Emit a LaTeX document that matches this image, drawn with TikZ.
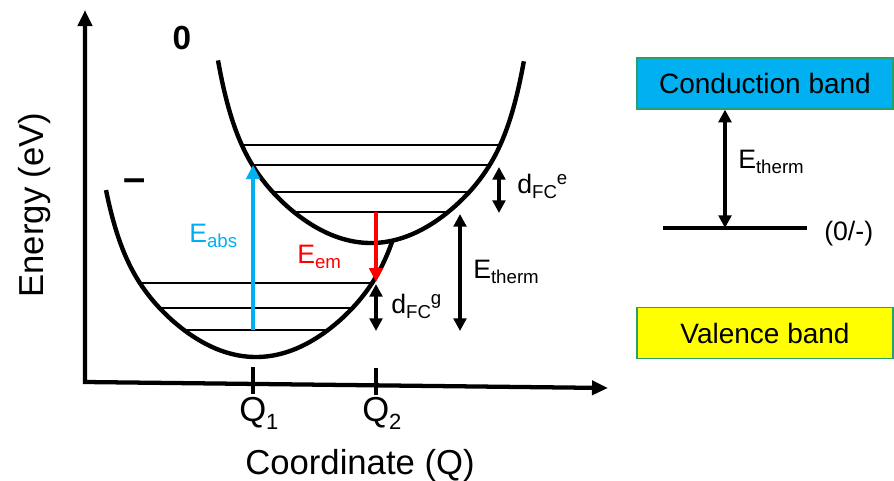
\documentclass[tikz,border=0pt]{standalone}
\usepackage{fontspec}
\setmainfont{Liberation Sans}
\usetikzlibrary{arrows.meta}
\definecolor{absblue}{RGB}{0,176,240}
\definecolor{emred}{RGB}{255,0,0}
\definecolor{cbfill}{RGB}{0,176,240}
\definecolor{vbfill}{RGB}{255,255,0}
\definecolor{bandedge}{RGB}{40,160,110}
\newcommand{\mysub}[1]{\raisebox{-3.8pt}{\fontsize{14}{16}\selectfont #1}}
\newcommand{\mysup}[1]{\raisebox{6.5pt}{\fontsize{14}{16}\selectfont #1}}
\newcommand{\qsub}[1]{\raisebox{-6.5pt}{\fontsize{16.5}{19}\selectfont #1}}
\begin{document}
\begin{tikzpicture}[x=0.75pt,y=-0.75pt,
  curve/.style={line width=3.3pt},
  level/.style={line width=1.4pt},
  axis/.style={line width=3.2pt,line join=miter,{Triangle[length=12pt,width=10.5pt]}-{Triangle[length=12pt,width=10.5pt]}},
  dbl/.style={line width=2.7pt,{Triangle[length=9.5pt,width=9.5pt]}-{Triangle[length=9.5pt,width=9.5pt]}},
  single/.style={line width=3.2pt,-{Triangle[length=10.5pt,width=10pt]}},
  lbl/.style={font=\fontsize{20}{24}\selectfont, inner sep=0pt},
  big/.style={font=\fontsize{26}{31}\selectfont, inner sep=0pt},
  bandbox/.style={draw=bandedge, line width=0.9pt, minimum width=192pt, minimum height=38.25pt, inner sep=0pt, font=\fontsize{21}{25}\selectfont}
]
\useasboundingbox (0,0) rectangle (894,480);

% axes
\coordinate (ytip) at (85,10);
\coordinate (origin) at (85,382);
\coordinate (xtip) at (608,388);
\draw[axis] (ytip) -- (origin) -- (xtip);

% ticks
\coordinate (t1a) at (253,367); \coordinate (t1b) at (253,394);
\coordinate (t2a) at (376,368); \coordinate (t2b) at (376,395);
\draw[line width=3pt] (t1a) -- (t1b);
\draw[line width=3pt] (t2a) -- (t2b);

\node[big, anchor=base west] (q1) at (239,421) {Q\qsub{1}};
\node[big, anchor=base west] (q2) at (362,421) {Q\qsub{2}};
\node[big, anchor=base] (xlab) at (360,474) {Coordinate (Q)};
\node[big, rotate=90, anchor=base] (ylab) at (43,205) {Energy (eV)};

% potential energy curves
\draw[curve] plot[domain=-1.5:1.365, samples=120, smooth, variable=\u]
  ({256+100*\u},{357-\u*\u*(52+26*(\u*\u/2.3409)^4)});
\draw[curve] plot[domain=-1.53:1.53, samples=140, smooth, variable=\u]
  ({371+100*\u},{243-\u*\u*(52+26*(\u*\u/2.3409)^4)});

% vibrational levels (upper)
\draw[level] (243,145) -- (498,145);
\draw[level] (253,165) -- (488,165);
\draw[level] (273,192) -- (468,192);
\draw[level] (293,212) -- (448,212);
% vibrational levels (lower)
\draw[level] (142,283) -- (372,283);
\draw[level] (161,308) -- (351,308);
\draw[level] (185,330) -- (327,330);

% charge-state labels
\node[font=\fontsize{25}{30}\selectfont\bfseries, inner sep=0pt] (zero) at (182,38) {0};
\node[font=\fontsize{30}{36}\selectfont\bfseries, inner sep=0pt, anchor=base] (minus) at (135,191) {–};

% transitions
\coordinate (absS) at (253,330); \coordinate (absE) at (253,165);
\draw[single, absblue] (absS) -- (absE);
\node[lbl, absblue, anchor=base west] (eabs) at (189,242) {E\mysub{abs}};

\coordinate (emS) at (376,212); \coordinate (emE) at (376,282);
\draw[single, emred] (emS) -- (emE);
\node[lbl, emred, anchor=base west] (eem) at (297,263) {E\mysub{em}};

\coordinate (dgT) at (376,284); \coordinate (dgB) at (376,331);
\draw[dbl] (dgT) -- (dgB);
\node[lbl, anchor=base west] (dfcg) at (391,313) {d\mysub{FC}\mysup{g}};

\coordinate (deT) at (499,167); \coordinate (deB) at (499,213);
\draw[dbl] (deT) -- (deB);
\node[lbl, anchor=base west] (dfce) at (517,193) {d\mysub{FC}\mysup{e}};

\coordinate (etT) at (460,214); \coordinate (etB) at (460,331);
\draw[dbl] (etT) -- (etB);
\node[lbl, anchor=base west] (eth) at (473,278) {E\mysub{therm}};

% band diagram
\node[bandbox, fill=cbfill] (cb) at (765,83.5) {Conduction band};
\node[bandbox, fill=vbfill] (vb) at (765,333) {Valence band};
\coordinate (lvlL) at (663,228); \coordinate (lvlR) at (807,228);
\draw[line width=3pt] (lvlL) -- (lvlR);
\node[lbl, anchor=base west] (lvllab) at (824,240) {(0/-)};
\coordinate (lvlA) at (725,228);
\draw[dbl] (cb.south -| lvlA) -- (lvlA);
\node[lbl, anchor=base west] (eth2) at (738,168) {E\mysub{therm}};
\end{tikzpicture}
\end{document}
